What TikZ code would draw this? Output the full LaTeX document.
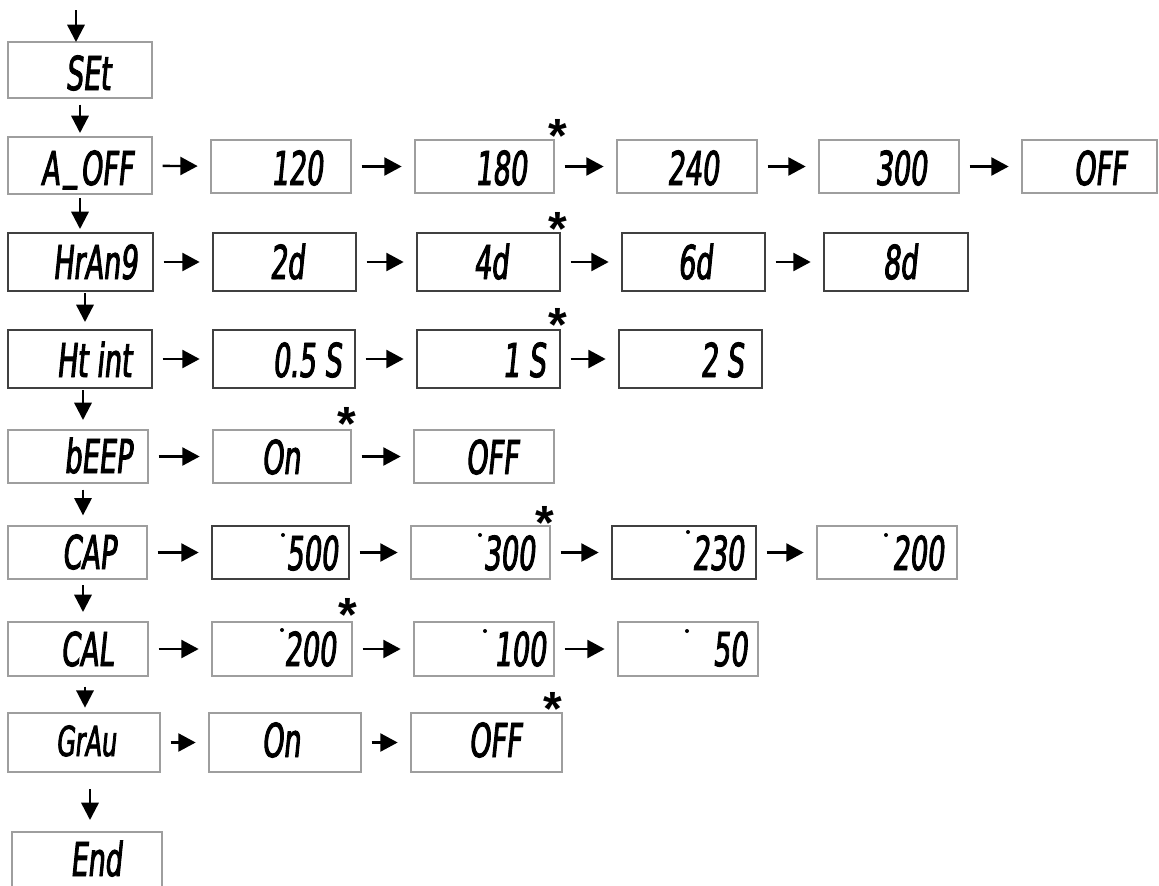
\documentclass[tikz,border=0pt]{standalone}
\usepackage{fontspec}
\usetikzlibrary{arrows.meta}
\newfontfamily\lcdfont[FakeStretch=0.58,FakeSlant=0.1]{DejaVu Sans}
\newfontfamily\starfont{Liberation Sans}
\tikzset{
  box/.style={draw=black!38, line width=1pt, inner sep=0pt, outer sep=0pt},
  dark/.style={draw=black!75},
  lcd/.style={font=\lcdfont\fontsize{35}{35}\selectfont\addfontfeature{FakeBold=2}, anchor=base, inner sep=0pt},
  harrow/.style={-{Triangle[length=13pt,width=13.5pt]}, line width=1.8pt, shorten <=8pt, shorten >=10pt},
  varrow/.style={-{Triangle[length=13pt,width=13pt]}, line width=1.8pt},
  star/.style={font=\starfont\bfseries\fontsize{36}{36}\selectfont, anchor=north, inner sep=0pt},
  lcddot/.style={fill=black}
}
\newcommand\lcdbox[9]{%
  \node[box,#9,minimum width={(#4-#2)*0.75pt},minimum height={(#5-#3)*0.75pt}] (#1) at ({(#2+#4)/2},{(#3+#5)/2}) {};
  \node[lcd] (#1-t) at (#6,#7) {#8};}
\newcommand\lcdus{\kern0.1em\raisebox{0.14em}{\_}\kern0.06em}
\begin{document}
\begin{tikzpicture}[x=0.75pt,y=-0.75pt]
\useasboundingbox (0,0) rectangle (1159,885);
% column 1
\lcdbox{set}{8}{42}{152}{98}{88}{90}{SEt}{}
\lcdbox{aoff}{8}{137}{152}{194}{87}{185}{A\lcdus OFF}{}
\lcdbox{hrang}{8}{233}{153}{291}{95}{279}{HrAn9}{dark}
\lcdbox{ht}{8}{330}{152}{388}{94}{377}{Ht int}{dark}
\lcdbox{beep}{8}{430}{148}{483}{98}{473}{bEEP}{}
\lcdbox{cap}{8}{526}{147}{579}{89}{569}{CAP}{}
\lcdbox{cal}{8}{622}{148}{676}{87}{666}{CAL}{}
\lcdbox{grau}{8}{713}{160}{772}{86}{756}{\fontsize{31}{31}\selectfont GrAu}{}
\lcdbox{end}{12}{832}{162}{887}{96}{876}{End}{}
% row A_OFF
\lcdbox{a120}{211}{140}{351}{193}{297}{185}{120}{}
\lcdbox{a180}{415}{140}{554}{193}{501}{185}{180}{}
\lcdbox{a240}{617}{140}{757}{193}{693}{185}{240}{}
\lcdbox{a300}{819}{140}{959}{193}{901}{185}{300}{}
\lcdbox{aoffv}{1022}{140}{1157}{193}{1100}{185}{OFF}{}
% row HrAng
\lcdbox{h2d}{213}{233}{356}{291}{287}{279}{2d}{dark}
\lcdbox{h4d}{417}{233}{560}{291}{491}{279}{4d}{dark}
\lcdbox{h6d}{622}{233}{765}{291}{695}{279}{6d}{dark}
\lcdbox{h8d}{824}{233}{968}{291}{900}{279}{8d}{dark}
% row Ht int
\lcdbox{t05}{213}{330}{355}{388}{307}{377}{0.5 S}{dark}
\lcdbox{t1}{417}{330}{560}{388}{524}{377}{1 S}{dark}
\lcdbox{t2}{619}{330}{762}{388}{722}{377}{2 S}{dark}
% row bEEP
\lcdbox{bon}{213}{430}{351}{483}{281}{474}{On}{}
\lcdbox{boff}{414}{430}{554}{483}{492}{474}{OFF}{}
% row CAP
\lcdbox{c500}{212}{526}{349}{579}{312}{570}{500}{dark}
\lcdbox{c300}{411}{526}{550}{579}{509}{570}{300}{}
\lcdbox{c230}{612}{526}{756}{579}{718}{570}{230}{dark}
\lcdbox{c200}{817}{526}{957}{579}{918}{570}{200}{}
% row CAL
\lcdbox{l200}{212}{622}{352}{676}{310}{666}{200}{}
\lcdbox{l100}{414}{622}{554}{676}{520}{666}{100}{}
\lcdbox{l50}{618}{622}{758}{676}{730}{666}{50}{}
% row GrAu
\lcdbox{gon}{209}{713}{361}{772}{281}{757}{On}{}
\lcdbox{goff}{411}{713}{562}{772}{495}{757}{OFF}{}
% decimal points
\foreach \px/\py in {283/535,480/535,688/532,886/535,282/630,485/631,687/631}
  \fill[lcddot] (\px,\py) circle[radius=2];
% stars
\node[star] (s1) at (558,119) {*};
\node[star] (s2) at (558,212) {*};
\node[star] (s3) at (558,308) {*};
\node[star] (s4) at (347,407) {*};
\node[star] (s5) at (545,506) {*};
\node[star] (s6) at (348,598) {*};
\node[star] (s7) at (553,692) {*};
% vertical arrows
\coordinate (start) at (76,10);
\draw[varrow] (start) -- (start |- set.north);
\draw[varrow, shorten <=5pt, shorten >=3pt] (set.south -| 80,0) -- (aoff.north -| 80,0);
\draw[varrow, shorten <=3pt, shorten >=3pt] (aoff.south -| 80,0) -- (hrang.north -| 80,0);
\draw[varrow, shorten <=1.5pt, shorten >=6pt] (hrang.south -| 85,0) -- (ht.north -| 85,0);
\draw[varrow, shorten <=1.5pt, shorten >=7.5pt] (ht.south -| 83,0) -- (beep.north -| 83,0);
\draw[varrow, shorten <=5pt, shorten >=8pt] (beep.south -| 83,0) -- (cap.north -| 83,0);
\draw[varrow, shorten <=4.5pt, shorten >=7.5pt] (cap.south -| 83,0) -- (cal.north -| 83,0);
\draw[varrow, shorten <=8pt, shorten >=4pt] (cal.south -| 85,0) -- (grau.north -| 85,0);
\draw[varrow, shorten <=13pt, shorten >=9pt] (grau.south -| 90,0) -- (end.north -| 90,0);
% horizontal arrows
\draw[harrow] (aoff) -- (a120);
\draw[harrow] (a120) -- (a180);
\draw[harrow] (a180) -- (a240);
\draw[harrow] (a240) -- (a300);
\draw[harrow] (a300) -- (aoffv);
\draw[harrow] (hrang) -- (h2d);
\draw[harrow] (h2d) -- (h4d);
\draw[harrow] (h4d) -- (h6d);
\draw[harrow] (h6d) -- (h8d);
\draw[harrow] (ht) -- (t05);
\draw[harrow] (t05) -- (t1);
\draw[harrow] (t1) -- (t2);
\draw[harrow] (beep) -- (bon);
\draw[harrow] (bon) -- (boff);
\draw[harrow] (cap) -- (c500);
\draw[harrow] (c500) -- (c300);
\draw[harrow] (c300) -- (c230);
\draw[harrow] (c230) -- (c200);
\draw[harrow] (cal) -- (l200);
\draw[harrow] (l200) -- (l100);
\draw[harrow] (l100) -- (l50);
\draw[harrow] (grau) -- (gon);
\draw[harrow] (gon) -- (goff);
\end{tikzpicture}
\end{document}
